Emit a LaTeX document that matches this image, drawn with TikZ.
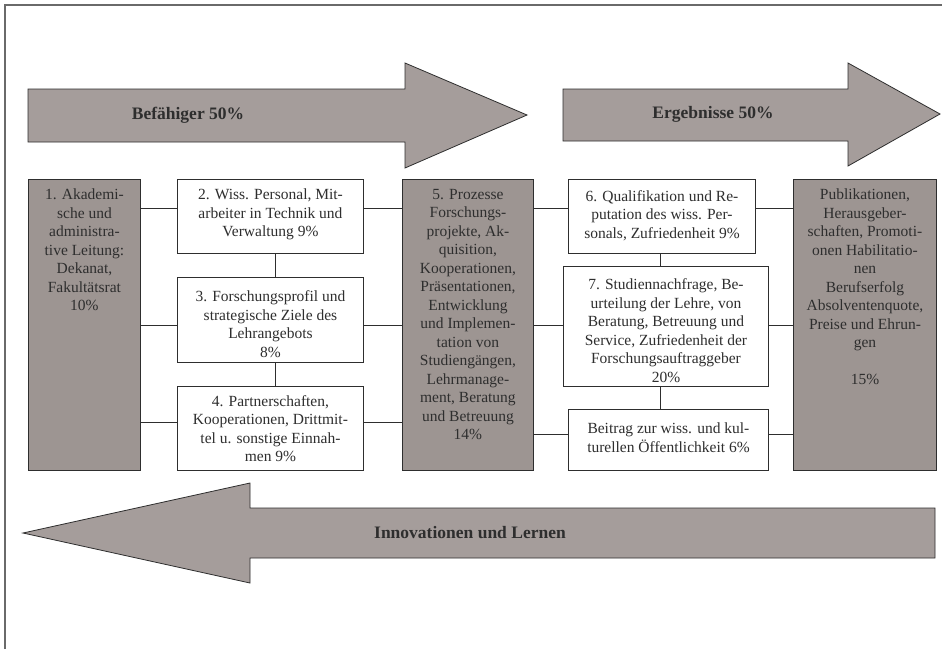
\documentclass[tikz,border=0pt]{standalone}
\usepackage{fontspec}
\setmainfont{Liberation Serif}
\usetikzlibrary{calc}
\definecolor{arrowfill}{HTML}{A59D9B}
\definecolor{boxgray}{HTML}{9D9592}
\definecolor{ink}{HTML}{2E2E2E}
\definecolor{framec}{HTML}{6A6A6A}
\begin{document}
\begin{tikzpicture}[x=1pt,y=-1pt,
  box/.style={draw=ink, line width=0.9pt, inner sep=0pt, anchor=north west},
  wbox/.style={box, fill=white},
  gbox/.style={box, fill=boxgray},
  txt/.style={font=\fontsize{15.5}{18.5}\selectfont, text=ink, align=center, inner sep=0pt},
  conn/.style={draw=ink, line width=0.9pt},
  bigarrow/.style={draw=ink, line width=0.8pt, fill=arrowfill},
  lbl/.style={font=\fontsize{17.5}{20}\selectfont\bfseries, text=ink, inner sep=0pt}]
\useasboundingbox (0,0) rectangle (942,649);
\fill[white] (0,0) rectangle (942,649);
% frame
\draw[framec, line width=1.5pt] (5,649) -- (5,5) -- (942,5);

% big arrows
\draw[bigarrow] (28,89) -- (405,89) -- (405,63) -- (527,115) -- (405,168) -- (405,142) -- (28,142) -- cycle;
\node[lbl] (l1) at (188,115) {Befähiger 50\%};
\draw[bigarrow] (563,89) -- (848,89) -- (848,63) -- (940,114) -- (848,166) -- (848,141) -- (563,141) -- cycle;
\node[lbl] (l2) at (713,114) {Ergebnisse 50\%};
\draw[bigarrow] (935,508) -- (250,508) -- (250,483) -- (23,533) -- (250,583) -- (250,558) -- (935,558) -- cycle;
\node[lbl] (l3) at (470,533) {Innovationen und Lernen};

% boxes
\node[gbox, minimum width=112pt, minimum height=291pt] (b1) at (28,179) {};
\node[wbox, minimum width=186pt, minimum height=74pt] (b2) at (177,179) {};
\node[wbox, minimum width=186pt, minimum height=85pt] (b3) at (177,277) {};
\node[wbox, minimum width=186pt, minimum height=84pt] (b4) at (177,386) {};
\node[gbox, minimum width=131pt, minimum height=291pt] (b5) at (402,179) {};
\node[wbox, minimum width=187pt, minimum height=74pt] (b6) at (568,179) {};
\node[wbox, minimum width=205pt, minimum height=120pt] (b7) at (563,266) {};
\node[wbox, minimum width=200pt, minimum height=61pt] (b8) at (568,409) {};
\node[gbox, minimum width=143pt, minimum height=291pt] (b9) at (793,179) {};

% texts
\node[txt, anchor=north] (t1) at ($(b1.north)+(0,10)$) {1. Akademi-\\sche und\\administra-\\tive Leitung:\\Dekanat,\\Fakultätsrat\\10\%};
\node[txt] (t2) at ($(b2.center)+(0,-2)$) {2. Wiss. Personal, Mit-\\arbeiter in Technik und\\Verwaltung 9\%};
\node[txt] (t3) at ($(b3.center)+(0,4)$) {3. Forschungsprofil und\\strategische Ziele des\\Lehrangebots\\8\%};
\node[txt] (t4) at (b4.center) {4. Partnerschaften,\\Kooperationen, Drittmit-\\tel u. sonstige Einnah-\\men 9\%};
\node[txt, anchor=north] (t5) at ($(b5.north)+(0,10)$) {5. Prozesse\\Forschungs-\\projekte, Ak-\\quisition,\\Kooperationen,\\Präsentationen,\\Entwicklung\\und Implemen-\\tation von\\Studiengängen,\\Lehrmanage-\\ment, Beratung\\und Betreuung\\14\%};
\node[txt] (t6) at ($(b6.center)+(0,-1)$) {6. Qualifikation und Re-\\putation des wiss. Per-\\sonals, Zufriedenheit 9\%};
\node[txt] (t7) at ($(b7.center)+(0,4)$) {7. Studiennachfrage, Be-\\urteilung der Lehre, von\\Beratung, Betreuung und\\Service, Zufriedenheit der\\Forschungsauftraggeber\\20\%};
\node[txt] (t8) at ($(b8.center)+(0,-2)$) {Beitrag zur wiss. und kul-\\turellen Öffentlichkeit 6\%};
\node[txt, anchor=north] (t9) at ($(b9.north)+(0,10)$) {Publikationen,\\Herausgeber-\\schaften, Promoti-\\onen Habilitatio-\\nen\\Berufserfolg\\Absolventenquote,\\Preise und Ehrun-\\gen\\[18.5pt]15\%};

% connector levels
\coordinate (r1) at (0,208);
\coordinate (r2) at (0,325);
\coordinate (r3) at (0,422);
\coordinate (r4) at (0,434);
\coordinate (c1) at (275,0);
\coordinate (c2) at (660,0);

\draw[conn] (b1.east |- r1) -- (b2.west |- r1);
\draw[conn] (b1.east |- r2) -- (b3.west |- r2);
\draw[conn] (b1.east |- r3) -- (b4.west |- r3);
\draw[conn] (b2.east |- r1) -- (b5.west |- r1);
\draw[conn] (b3.east |- r2) -- (b5.west |- r2);
\draw[conn] (b4.east |- r3) -- (b5.west |- r3);
\draw[conn] (b5.east |- r1) -- (b6.west |- r1);
\draw[conn] (b5.east |- r2) -- (b7.west |- r2);
\draw[conn] (b5.east |- r4) -- (b8.west |- r4);
\draw[conn] (b6.east |- r1) -- (b9.west |- r1);
\draw[conn] (b7.east |- r2) -- (b9.west |- r2);
\draw[conn] (b8.east |- r4) -- (b9.west |- r4);
\draw[conn] (b2.south -| c1) -- (b3.north -| c1);
\draw[conn] (b3.south -| c1) -- (b4.north -| c1);
\draw[conn] (b6.south -| c2) -- (b7.north -| c2);
\draw[conn] (b7.south -| c2) -- (b8.north -| c2);
\end{tikzpicture}
\end{document}
